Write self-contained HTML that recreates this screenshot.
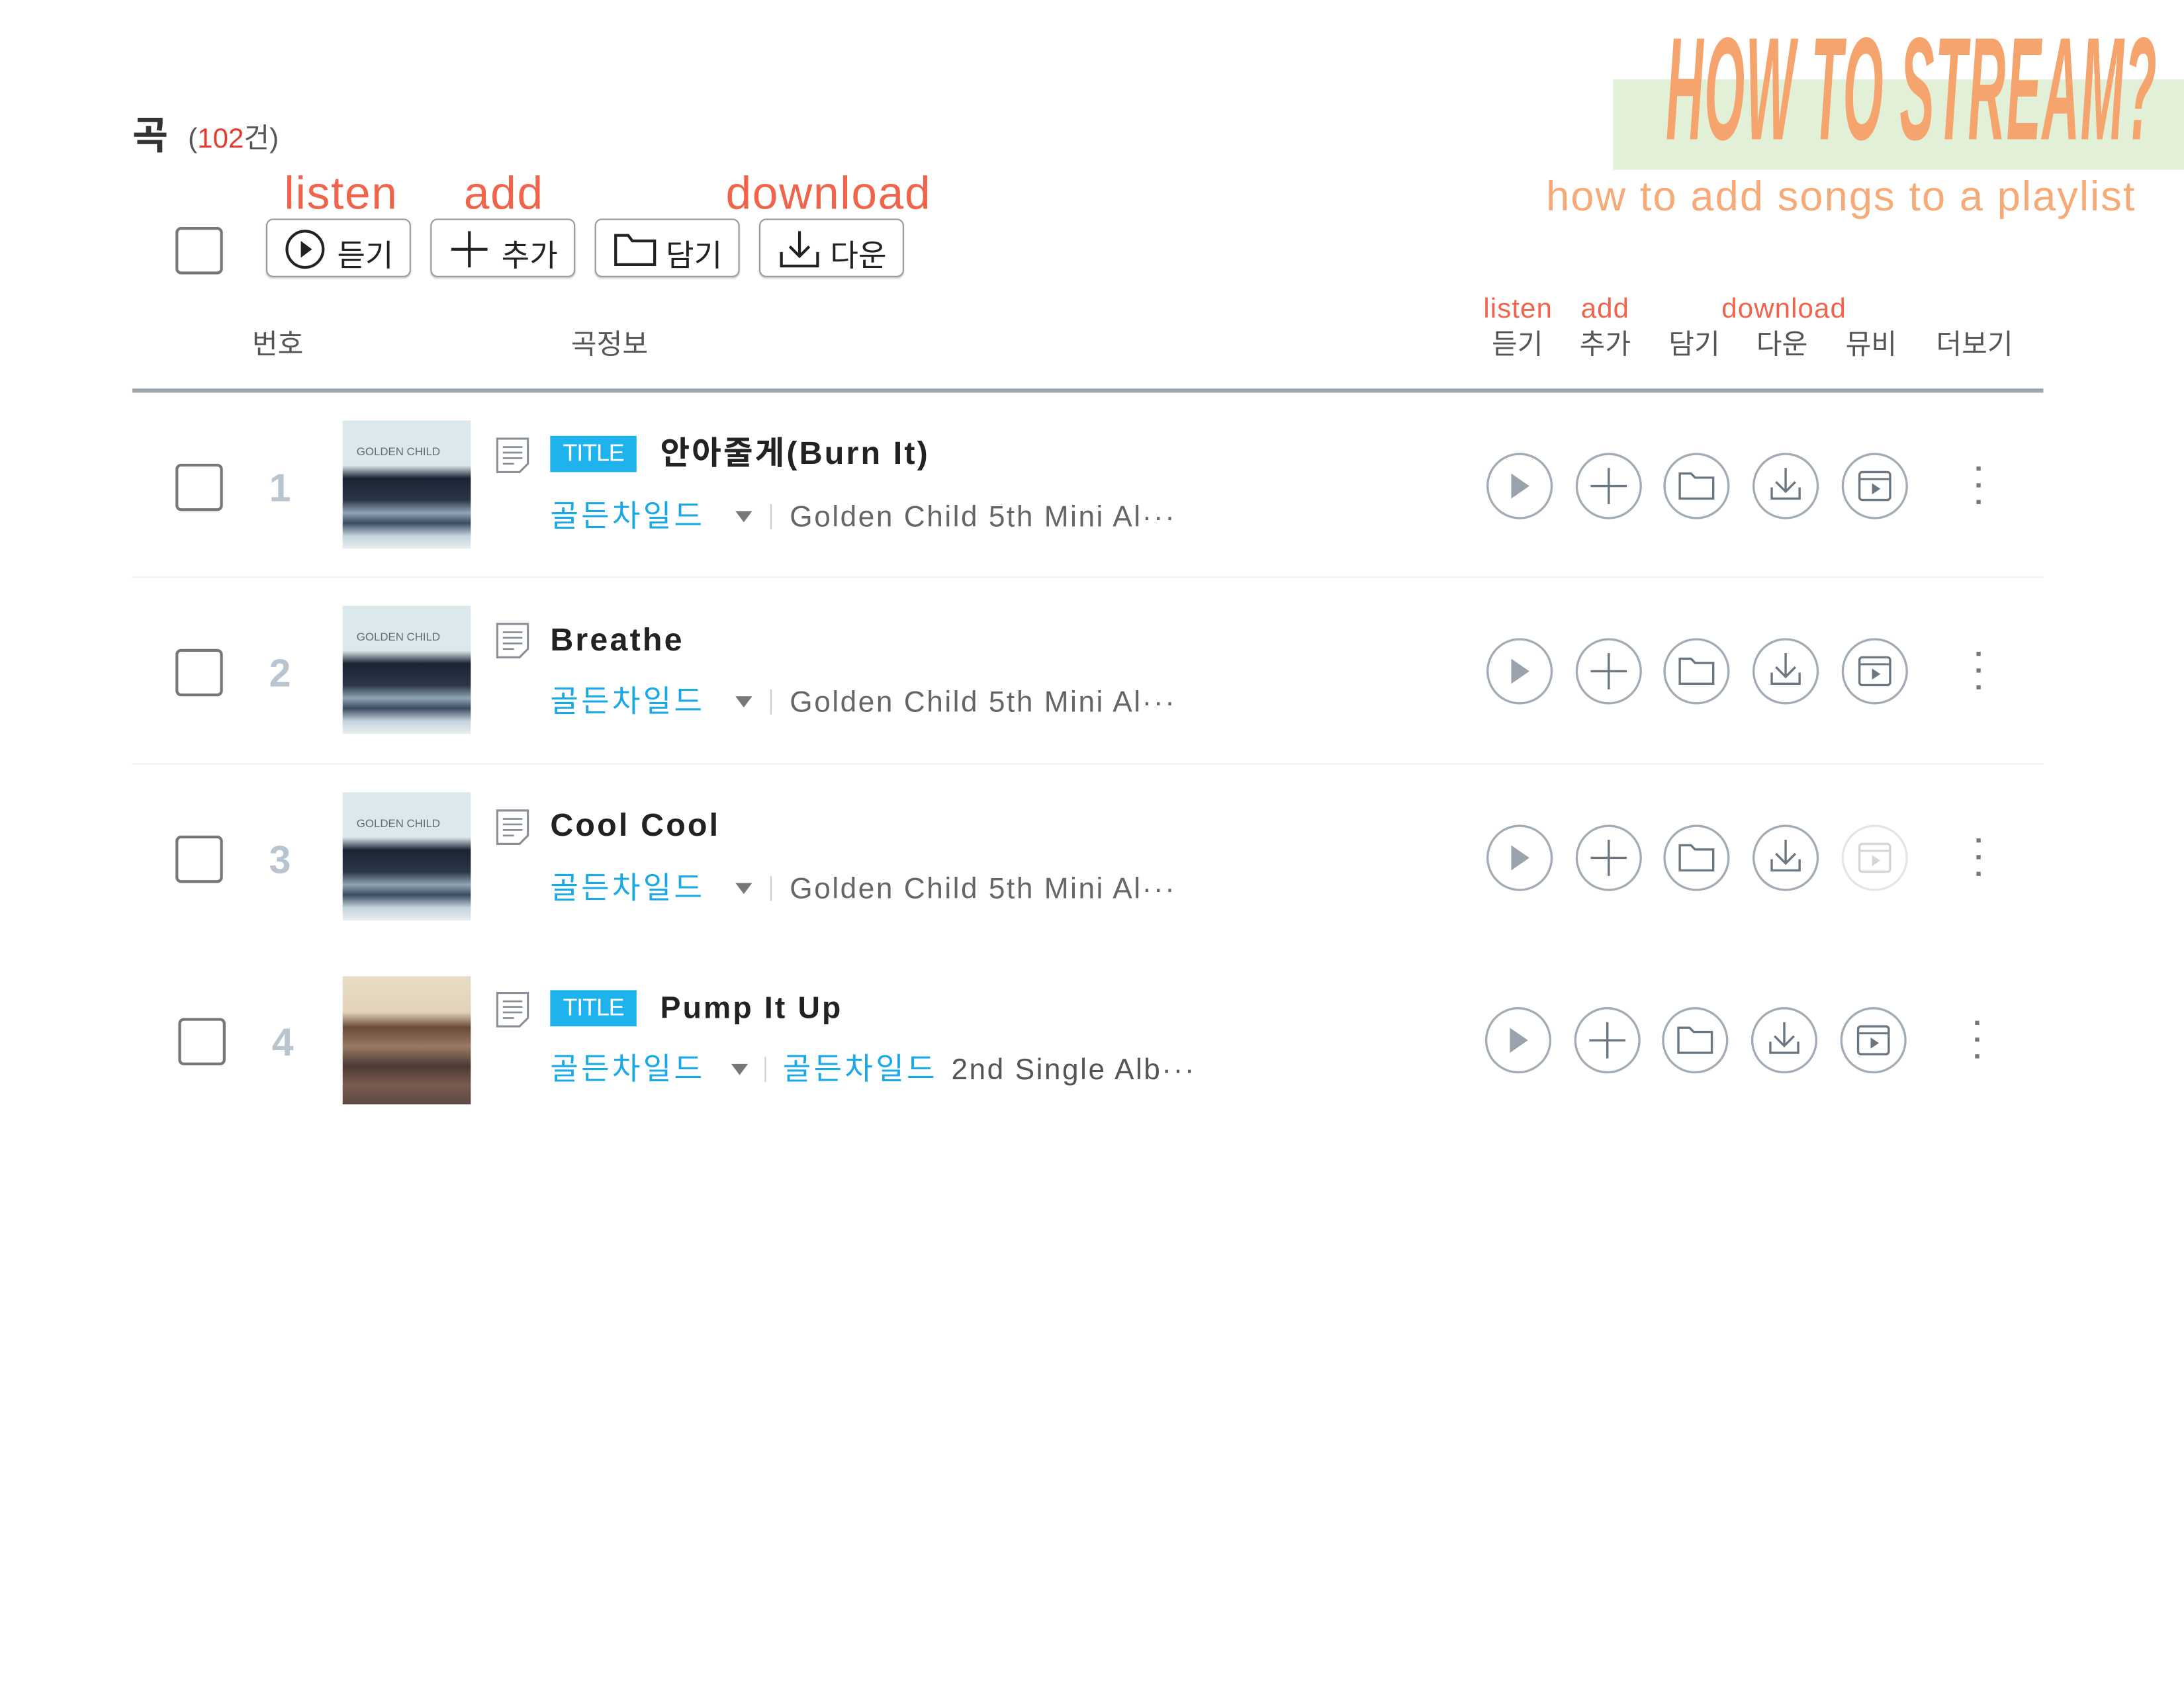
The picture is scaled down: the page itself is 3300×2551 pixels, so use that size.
<!DOCTYPE html>
<html><head><meta charset="utf-8"><style>
html,body{margin:0;padding:0;background:#fff;}
body{width:3300px;height:2550px;overflow:hidden;position:relative;}
#w{position:absolute;left:0;top:0;width:1568px;height:1212px;overflow:hidden;transform:scale(2.1046);transform-origin:0 0;font-family:"Liberation Sans","Noto Sans CJK KR",sans-serif;}
.a{position:absolute;white-space:nowrap;}
.lbl{color:#f0644c;font-size:33px;line-height:1;letter-spacing:0.8px;}
.sl{color:#f0644c;font-size:20px;line-height:1;letter-spacing:0.5px;}
.hd{color:#555;font-size:20px;line-height:1;}
.cb{position:absolute;width:30px;height:30px;border:2px solid #777;border-radius:4px;background:#fff;}
.btn{position:absolute;top:157px;width:104px;height:42px;border:1.5px solid #999;border-radius:5px;box-sizing:border-box;box-shadow:0 1px 1px #ccc;font-size:22px;color:#222;}
.num{color:#b8c4d0;font-size:28px;font-weight:bold;width:40px;text-align:center;}
.art{position:absolute;width:92px;height:92px;}
.badge{background:#1fb3ee;color:#fff;font-size:17px;width:62px;height:26px;line-height:26px;text-align:center;letter-spacing:-0.5px;}
.tt{font-size:23px;font-weight:bold;color:#222;line-height:1;letter-spacing:1.5px;}
.ar{color:#19a9e6;font-size:22px;line-height:1;letter-spacing:2px;}
.al{color:#666;font-size:21px;line-height:1;letter-spacing:1.2px;}
.tri{width:0;height:0;border-left:6px solid transparent;border-right:6px solid transparent;border-top:8px solid #777;}
.sep{width:1px;height:18px;background:#ccc;}
</style></head><body><div id="w">

<div class="a" style="left:1158px;top:57px;width:410px;height:65px;background:#e3f0d8;"></div>
<div class="a" style="left:1196px;top:12px;font-weight:bold;font-style:italic;font-size:105px;color:#f4a46c;line-height:1;transform:scaleX(0.355);transform-origin:0 0;letter-spacing:2px;">HOW TO STREAM?</div>
<div class="a" style="left:1110px;top:127px;font-size:30px;color:#f5aa78;line-height:1;letter-spacing:1px;">how to add songs to a playlist</div>

<div class="a" style="left:95px;top:84px;font-size:28px;font-weight:bold;color:#333;line-height:1;">곡</div>
<div class="a" style="left:135px;top:90px;font-size:20px;color:#555;line-height:1;">(<span style="color:#e8392e">102</span>건)</div>

<div class="a lbl" style="left:204px;top:122px;">listen</div>
<div class="a lbl" style="left:333px;top:122px;">add</div>
<div class="a lbl" style="left:521px;top:122px;">download</div>

<div class="cb" style="left:126px;top:163px;"></div>
<div class="btn" style="left:191px;"><svg class="a" style="left:12px;top:6px" width="30" height="30"><circle cx="15" cy="15" r="13" fill="none" stroke="#222" stroke-width="2"/><path d="M12 9 L20 15 L12 21Z" fill="#222"/></svg><span class="a" style="left:50px;top:8px;">듣기</span></div>
<div class="btn" style="left:309px;"><svg class="a" style="left:12px;top:6px" width="30" height="30"><path d="M15 2V28M2 15H28" stroke="#222" stroke-width="2"/></svg><span class="a" style="left:50px;top:8px;">추가</span></div>
<div class="btn" style="left:427px;"><svg class="a" style="left:12px;top:6px" width="32" height="30"><path d="M2 5H11L14 9H30V26H2Z" fill="none" stroke="#222" stroke-width="2"/></svg><span class="a" style="left:50px;top:8px;">담기</span></div>
<div class="btn" style="left:545px;"><svg class="a" style="left:12px;top:6px" width="32" height="30"><path d="M16 2V20M9 13L16 20L23 13M3 17V27H29V17" fill="none" stroke="#222" stroke-width="2"/></svg><span class="a" style="left:50px;top:8px;">다운</span></div>

<div class="a sl" style="left:1065px;top:212px;">listen</div>
<div class="a sl" style="left:1135px;top:212px;">add</div>
<div class="a sl" style="left:1236px;top:212px;">download</div>

<div class="a hd" style="left:181px;top:238px;">번호</div>
<div class="a hd" style="left:410px;top:238px;">곡정보</div>
<div class="a hd" style="left:1071px;top:238px;">듣기</div>
<div class="a hd" style="left:1134px;top:238px;">추가</div>
<div class="a hd" style="left:1198px;top:238px;">담기</div>
<div class="a hd" style="left:1261px;top:238px;">다운</div>
<div class="a hd" style="left:1325px;top:238px;">뮤비</div>
<div class="a hd" style="left:1390px;top:238px;">더보기</div>

<div class="a" style="left:95px;top:279px;width:1372px;height:3px;background:#9ea7b0;"></div>
<div class="a" style="left:95px;top:414px;width:1372px;height:1px;background:#eef2f4;"></div>
<div class="a" style="left:95px;top:548px;width:1372px;height:1px;background:#eef2f4;"></div>

<svg width="0" height="0" style="position:absolute"><defs>
<g id="ring"><circle cx="24" cy="24" r="23" fill="#fff" stroke="#a3acb5" stroke-width="1.6"/></g>
<g id="ip"><use href="#ring"/><path d="M18 15L31 24L18 33Z" fill="#9aa3ad"/></g>
<g id="ia"><use href="#ring"/><path d="M24 11V37M11 24H37" stroke="#6c7680" stroke-width="1.6"/></g>
<g id="if"><use href="#ring"/><path d="M12 15H20L23 18H36V33H12Z" fill="none" stroke="#6c7680" stroke-width="1.6"/></g>
<g id="id"><use href="#ring"/><path d="M24 11V28M17 21L24 28L31 21M14 25V33H34V25" fill="none" stroke="#6c7680" stroke-width="1.6"/></g>
<g id="im"><use href="#ring"/><rect x="13" y="14" width="22" height="20" rx="2" fill="none" stroke="#6c7680" stroke-width="1.6"/><path d="M13 19H35" stroke="#6c7680" stroke-width="1.4"/><path d="M22 22L28 26L22 30Z" fill="#6c7680"/></g>
<g id="dots"><rect x="0" y="0" width="3" height="3" fill="#777"/><rect x="0" y="12" width="3" height="3" fill="#777"/><rect x="0" y="24" width="3" height="3" fill="#777"/></g>
</defs></svg>

<div class="cb" style="left:126px;top:333px;"></div>
<div class="a num" style="left:181px;top:335px;">1</div>
<div class="art" style="left:246px;top:302px;background:linear-gradient(#dbe9ec 0%,#dbe9ec 35%,#1b2433 45%,#2b3648 62%,#8fa4b4 72%,#3a4d60 80%,#c4d3dc 90%,#e9eef0 100%);"><div class="a" style="left:10px;top:18px;font-size:8px;color:#667;">GOLDEN CHILD</div></div>
<svg class="a" style="left:355px;top:313px" width="26" height="28"><path d="M2 2H24V20L18 26H2Z" fill="#fff" stroke="#8a9098" stroke-width="1.5"/><path d="M6 8H20M6 12H20M6 16H20M6 20H14" stroke="#8a9098" stroke-width="1.3"/></svg>
<div class="a badge" style="left:395px;top:313px;">TITLE</div>
<div class="a tt" style="left:474px;top:314px;">안아줄게(Burn It)</div>
<div class="a ar" style="left:395px;top:360px;">골든차일드</div>
<div class="a tri" style="left:528px;top:367px;"></div>
<div class="a sep" style="left:553px;top:362px;"></div>
<div class="a al" style="left:567px;top:361px;">Golden Child 5th Mini Al···</div>
<svg class="a" style="left:1067px;top:325px" width="400" height="50"><use href="#ip" x="0"/><use href="#ia" x="64"/><use href="#if" x="127"/><use href="#id" x="191"/><use href="#im" x="255"/><use href="#dots" x="352" y="10"/></svg>

<div class="cb" style="left:126px;top:466px;"></div>
<div class="a num" style="left:181px;top:468px;">2</div>
<div class="art" style="left:246px;top:435px;background:linear-gradient(#dbe9ec 0%,#dbe9ec 35%,#1b2433 45%,#2b3648 62%,#8fa4b4 72%,#3a4d60 80%,#c4d3dc 90%,#e9eef0 100%);"><div class="a" style="left:10px;top:18px;font-size:8px;color:#667;">GOLDEN CHILD</div></div>
<svg class="a" style="left:355px;top:446px" width="26" height="28"><path d="M2 2H24V20L18 26H2Z" fill="#fff" stroke="#8a9098" stroke-width="1.5"/><path d="M6 8H20M6 12H20M6 16H20M6 20H14" stroke="#8a9098" stroke-width="1.3"/></svg>
<div class="a tt" style="left:395px;top:448px;">Breathe</div>
<div class="a ar" style="left:395px;top:493px;">골든차일드</div>
<div class="a tri" style="left:528px;top:500px;"></div>
<div class="a sep" style="left:553px;top:495px;"></div>
<div class="a al" style="left:567px;top:494px;">Golden Child 5th Mini Al···</div>
<svg class="a" style="left:1067px;top:458px" width="400" height="50"><use href="#ip" x="0"/><use href="#ia" x="64"/><use href="#if" x="127"/><use href="#id" x="191"/><use href="#im" x="255"/><use href="#dots" x="352" y="10"/></svg>

<div class="cb" style="left:126px;top:600px;"></div>
<div class="a num" style="left:181px;top:602px;">3</div>
<div class="art" style="left:246px;top:569px;background:linear-gradient(#dbe9ec 0%,#dbe9ec 35%,#1b2433 45%,#2b3648 62%,#8fa4b4 72%,#3a4d60 80%,#c4d3dc 90%,#e9eef0 100%);"><div class="a" style="left:10px;top:18px;font-size:8px;color:#667;">GOLDEN CHILD</div></div>
<svg class="a" style="left:355px;top:580px" width="26" height="28"><path d="M2 2H24V20L18 26H2Z" fill="#fff" stroke="#8a9098" stroke-width="1.5"/><path d="M6 8H20M6 12H20M6 16H20M6 20H14" stroke="#8a9098" stroke-width="1.3"/></svg>
<div class="a tt" style="left:395px;top:581px;">Cool Cool</div>
<div class="a ar" style="left:395px;top:627px;">골든차일드</div>
<div class="a tri" style="left:528px;top:634px;"></div>
<div class="a sep" style="left:553px;top:629px;"></div>
<div class="a al" style="left:567px;top:628px;">Golden Child 5th Mini Al···</div>
<svg class="a" style="left:1067px;top:592px" width="400" height="50"><use href="#ip" x="0"/><use href="#ia" x="64"/><use href="#if" x="127"/><use href="#id" x="191"/><g opacity="0.3"><use href="#im" x="255"/></g><use href="#dots" x="352" y="10"/></svg>

<div class="cb" style="left:128px;top:731px;"></div>
<div class="a num" style="left:183px;top:733px;">4</div>
<div class="art" style="left:246px;top:701px;background:linear-gradient(#e8dcc6 0%,#e2d3ba 28%,#6a4a3a 40%,#9a7a64 55%,#4a3a34 70%,#7a5a4e 85%,#5a4a44 100%);"></div>
<svg class="a" style="left:355px;top:711px" width="26" height="28"><path d="M2 2H24V20L18 26H2Z" fill="#fff" stroke="#8a9098" stroke-width="1.5"/><path d="M6 8H20M6 12H20M6 16H20M6 20H14" stroke="#8a9098" stroke-width="1.3"/></svg>
<div class="a badge" style="left:395px;top:711px;">TITLE</div>
<div class="a tt" style="left:474px;top:713px;font-size:22px;">Pump It Up</div>
<div class="a ar" style="left:395px;top:757px;">골든차일드</div>
<div class="a tri" style="left:525px;top:764px;"></div>
<div class="a sep" style="left:549px;top:759px;"></div>
<div class="a ar" style="left:562px;top:757px;">골든차일드</div>
<div class="a al" style="left:683px;top:758px;color:#555;">2nd Single Alb···</div>
<svg class="a" style="left:1066px;top:723px" width="400" height="50"><use href="#ip" x="0"/><use href="#ia" x="64"/><use href="#if" x="127"/><use href="#id" x="191"/><use href="#im" x="255"/><use href="#dots" x="352" y="10"/></svg>

</div></body></html>
